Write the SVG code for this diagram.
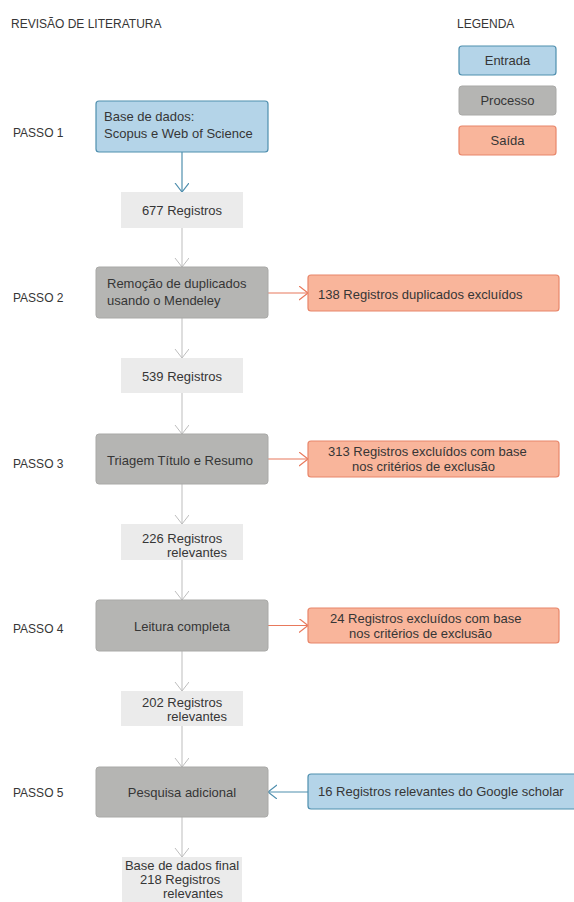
<svg xmlns="http://www.w3.org/2000/svg" width="574" height="902" viewBox="0 0 574 902">
<style>
text{font-family:"Liberation Sans",Arial,sans-serif;fill:#363636;}
.h{font-size:12px;}
.t{font-size:13px;}
.c{text-anchor:middle;}
.in{fill:#b4d4e8;stroke:#4f8fae;stroke-width:1.2;}
.pr{fill:#b5b5b3;stroke:#a9a9a7;stroke-width:1;}
.out{fill:#f9b59b;stroke:#e8866a;stroke-width:1.2;}
.rec{fill:#ebebeb;}
.g{stroke:#bdbdbd;stroke-width:1;fill:none;}
.b{stroke:#4f8fae;stroke-width:1.2;fill:none;}
.r{stroke:#e8795c;stroke-width:1.2;fill:none;}
</style>
<defs>
<marker id="ag" markerUnits="userSpaceOnUse" markerWidth="12" markerHeight="16" refX="9" refY="7" orient="auto"><path d="M0,0 L9,7 L0,14" fill="none" stroke="#bdbdbd" stroke-width="1"/></marker>
<marker id="ab" markerUnits="userSpaceOnUse" markerWidth="12" markerHeight="16" refX="9" refY="7" orient="auto"><path d="M0,0 L9,7 L0,14" fill="none" stroke="#4f8fae" stroke-width="1.2"/></marker>
<marker id="ar" markerUnits="userSpaceOnUse" markerWidth="12" markerHeight="16" refX="9" refY="7" orient="auto"><path d="M0,0 L9,7 L0,14" fill="none" stroke="#e8795c" stroke-width="1.2"/></marker>
</defs>
<rect width="574" height="902" fill="#ffffff"/>

<g id="headers">
<text class="h" x="11" y="28">REVISÃO DE LITERATURA</text>
<text class="h" x="457" y="28">LEGENDA</text>
<text class="h" x="13" y="137">PASSO 1</text>
<text class="h" x="13" y="302">PASSO 2</text>
<text class="h" x="13" y="468">PASSO 3</text>
<text class="h" x="13" y="633">PASSO 4</text>
<text class="h" x="13" y="797">PASSO 5</text>
</g>

<g id="legend">
<g id="leg-entrada"><rect class="in" x="459" y="46" width="97" height="29" rx="3"/><text class="t c" x="507.5" y="65">Entrada</text></g>
<g id="leg-processo"><rect class="pr" x="459" y="86" width="97" height="29" rx="3"/><text class="t c" x="507.5" y="105">Processo</text></g>
<g id="leg-saida"><rect class="out" x="459" y="126" width="97" height="29" rx="3"/><text class="t c" x="507.5" y="145">Saída</text></g>
</g>

<g id="connectors">
<line class="b" x1="182" y1="152" x2="182" y2="192" marker-end="url(#ab)"/>
<line class="g" x1="182" y1="228" x2="182" y2="267" marker-end="url(#ag)"/>
<line class="g" x1="182" y1="318" x2="182" y2="358" marker-end="url(#ag)"/>
<line class="g" x1="182" y1="393" x2="182" y2="434" marker-end="url(#ag)"/>
<line class="g" x1="182" y1="484" x2="182" y2="524" marker-end="url(#ag)"/>
<line class="g" x1="182" y1="560" x2="182" y2="600" marker-end="url(#ag)"/>
<line class="g" x1="182" y1="651" x2="182" y2="691" marker-end="url(#ag)"/>
<line class="g" x1="182" y1="726" x2="182" y2="767" marker-end="url(#ag)"/>
<line class="g" x1="182" y1="817" x2="182" y2="857" marker-end="url(#ag)"/>
<line class="r" x1="268" y1="293" x2="308" y2="293" marker-end="url(#ar)"/>
<line class="r" x1="268" y1="459" x2="308" y2="459" marker-end="url(#ar)"/>
<line class="r" x1="268" y1="625.5" x2="308" y2="625.5" marker-end="url(#ar)"/>
<line class="b" x1="308" y1="792" x2="268" y2="792" marker-end="url(#ab)"/>
</g>

<g id="step1">
<rect class="in" x="96" y="101" width="172" height="51" rx="3"/>
<text class="t" x="104" y="121">Base de dados:</text>
<text class="t" x="104" y="138">Scopus e Web of Science</text>
</g>
<g id="r677"><rect class="rec" x="121" y="192" width="122" height="36"/><text class="t c" x="182" y="215">677 Registros</text></g>

<g id="step2">
<rect class="pr" x="96" y="267" width="172" height="51" rx="3"/>
<text class="t" x="107" y="288">Remoção de duplicados</text>
<text class="t" x="107" y="305">usando o Mendeley</text>
</g>
<g id="out138"><rect class="out" x="308" y="275" width="251" height="36" rx="3"/><text class="t" x="318" y="299">138 Registros duplicados excluídos</text></g>
<g id="r539"><rect class="rec" x="121" y="358" width="122" height="35"/><text class="t c" x="182" y="381">539 Registros</text></g>

<g id="step3">
<rect class="pr" x="96" y="434" width="172" height="50" rx="3"/>
<text class="t c" x="180" y="465">Triagem Título e Resumo</text>
</g>
<g id="out313"><rect class="out" x="308" y="441" width="251" height="36" rx="3"/>
<text class="t" x="328" y="456">313 Registros excluídos com base</text>
<text class="t" x="352" y="471">nos critérios de exclusão</text></g>
<g id="r226"><rect class="rec" x="121" y="524" width="122" height="36"/>
<text class="t" x="142" y="543">226 Registros</text><text class="t" x="167" y="557">relevantes</text></g>

<g id="step4">
<rect class="pr" x="96" y="600" width="172" height="51" rx="3"/>
<text class="t c" x="182" y="631">Leitura completa</text>
</g>
<g id="out24"><rect class="out" x="308" y="608" width="251" height="35" rx="3"/>
<text class="t" x="330" y="623">24 Registros excluídos com base</text>
<text class="t" x="349" y="638">nos critérios de exclusão</text></g>
<g id="r202"><rect class="rec" x="121" y="691" width="122" height="35"/>
<text class="t" x="142" y="707">202 Registros</text><text class="t" x="167" y="721">relevantes</text></g>

<g id="step5">
<rect class="pr" x="96" y="767" width="172" height="50" rx="3"/>
<text class="t c" x="182" y="797">Pesquisa adicional</text>
</g>
<g id="in16"><rect class="in" x="308" y="774" width="270" height="35" rx="3"/>
<text class="t" x="318" y="796">16 Registros relevantes do Google scholar</text></g>
<g id="final"><rect class="rec" x="122" y="857" width="120" height="50"/>
<text class="t c" x="182" y="870">Base de dados final</text>
<text class="t" x="140" y="884">218 Registros</text>
<text class="t" x="163" y="898">relevantes</text></g>
</svg>
